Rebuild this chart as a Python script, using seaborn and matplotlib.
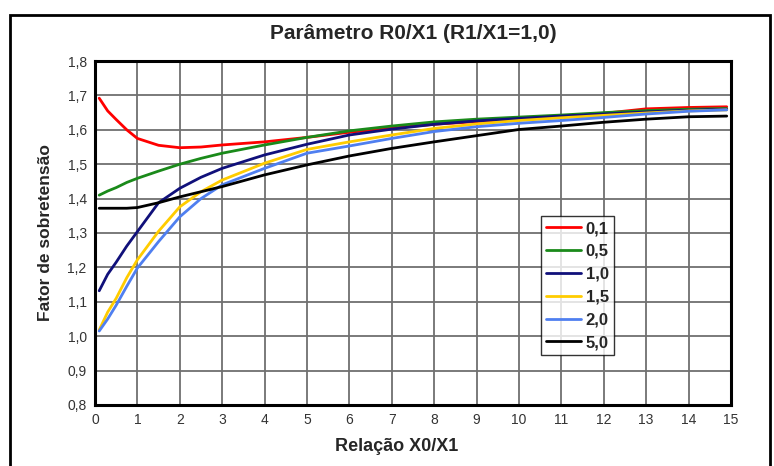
import numpy as np
import pandas as pd
import matplotlib
matplotlib.use("Agg")
import matplotlib.pyplot as plt
import seaborn as sns
from matplotlib.patches import Rectangle

# Data
x_vals = [0.1, 0.3, 0.5, 0.75, 1.0, 1.5, 2.0, 2.5, 3.0, 4.0, 5.0, 6.0, 7.0,
          8.0, 9.0, 10.0, 11.0, 12.0, 13.0, 14.0, 14.9]
series_labels = ["0,1", "0,5", "1,0", "1,5", "2,0", "5,0"]
y_01 = [1.692, 1.655, 1.630, 1.600, 1.575, 1.555, 1.548, 1.550, 1.556, 1.565, 1.578,
        1.593, 1.605, 1.616, 1.624, 1.632, 1.640, 1.648, 1.661, 1.665, 1.667]
y_05 = [1.410, 1.422, 1.432, 1.447, 1.459, 1.480, 1.500, 1.517, 1.532, 1.556, 1.578,
        1.597, 1.611, 1.623, 1.631, 1.637, 1.643, 1.650, 1.656, 1.660, 1.662]
y_10 = [1.132, 1.180, 1.215, 1.262, 1.304, 1.388, 1.430, 1.462, 1.488, 1.527, 1.558,
        1.585, 1.602, 1.616, 1.626, 1.633, 1.640, 1.646, 1.652, 1.657, 1.660]
y_15 = [1.018, 1.070, 1.110, 1.170, 1.222, 1.305, 1.376, 1.420, 1.454, 1.503, 1.543,
        1.565, 1.585, 1.604, 1.617, 1.627, 1.635, 1.642, 1.649, 1.655, 1.658]
y_20 = [1.015, 1.050, 1.090, 1.145, 1.198, 1.275, 1.347, 1.400, 1.440, 1.488, 1.532,
        1.553, 1.575, 1.595, 1.609, 1.619, 1.627, 1.636, 1.646, 1.654, 1.658]
y_50 = [1.372, 1.372, 1.372, 1.372, 1.374, 1.388, 1.405, 1.420, 1.435, 1.469, 1.498,
        1.524, 1.546, 1.565, 1.583, 1.601, 1.611, 1.622, 1.631, 1.638, 1.640]
colors = ["#ff0000", "#1a8a1a", "#10107a", "#ffcc00", "#4f7ff0", "#000000"]

x_ticks = list(range(0, 16))
y_ticks = [0.8, 0.9, 1.0, 1.1, 1.2, 1.3, 1.4, 1.5, 1.6, 1.7, 1.8]

df = pd.DataFrame({
    "x": x_vals * 6,
    "y": y_01 + y_05 + y_10 + y_15 + y_20 + y_50,
    "serie": sum([[s] * len(x_vals) for s in series_labels], []),
})

sns.set_theme(style="white")
plt.rcParams["font.family"] = ["Liberation Sans", "DejaVu Sans"]

fig = plt.figure(figsize=(7.74, 4.66), dpi=100)
ax = fig.add_axes([0.1227, 0.131, 0.8217, 0.738])

sns.lineplot(data=df, x="x", y="y", hue="serie", palette=colors,
             hue_order=series_labels, linewidth=2.0, ax=ax, legend=True)

ax.set_xlim(0, 15)
ax.set_ylim(0.8, 1.8)
ax.set_xticks(x_ticks)
ax.set_xticklabels([str(t) for t in x_ticks], fontsize=10, color="#333333")
ax.set_yticks(y_ticks)
ax.set_yticklabels([f"{t:.1f}".replace(".", ",") for t in y_ticks],
                   fontsize=10, color="#333333")
ax.tick_params(axis="both", length=4, width=1, color="#333333", pad=2)
ax.grid(True, color="#707070", linewidth=1.3)
for s in ax.spines.values():
    s.set_color("black")
    s.set_linewidth(2.2)

ax.set_xlabel("Relação X0/X1", fontsize=13, fontweight="bold")
ax.xaxis.set_label_coords(0.475, -0.095)
ax.set_ylabel("Fator de sobretensão", fontsize=12.5, fontweight="bold", labelpad=10)
ax.set_title("Parâmetro R0/X1 (R1/X1=1,0)", fontsize=15, fontweight="bold", pad=16)

leg = ax.legend(loc="upper left", bbox_to_anchor=(0.701, 0.549), frameon=True,
                fancybox=False, edgecolor="black", fontsize=12,
                handlelength=2.1, handletextpad=0.3, borderpad=0.3,
                labelspacing=0.47, borderaxespad=0)
leg.get_frame().set_linewidth(1.0)
for t in leg.get_texts():
    t.set_fontweight("bold")

fig.patches.append(Rectangle((10 / 774, -0.02), 760 / 774, (466 - 15) / 466 + 0.02,
                             transform=fig.transFigure, fill=False,
                             edgecolor="black", linewidth=2.0))

plt.savefig("out.png", dpi=100)
